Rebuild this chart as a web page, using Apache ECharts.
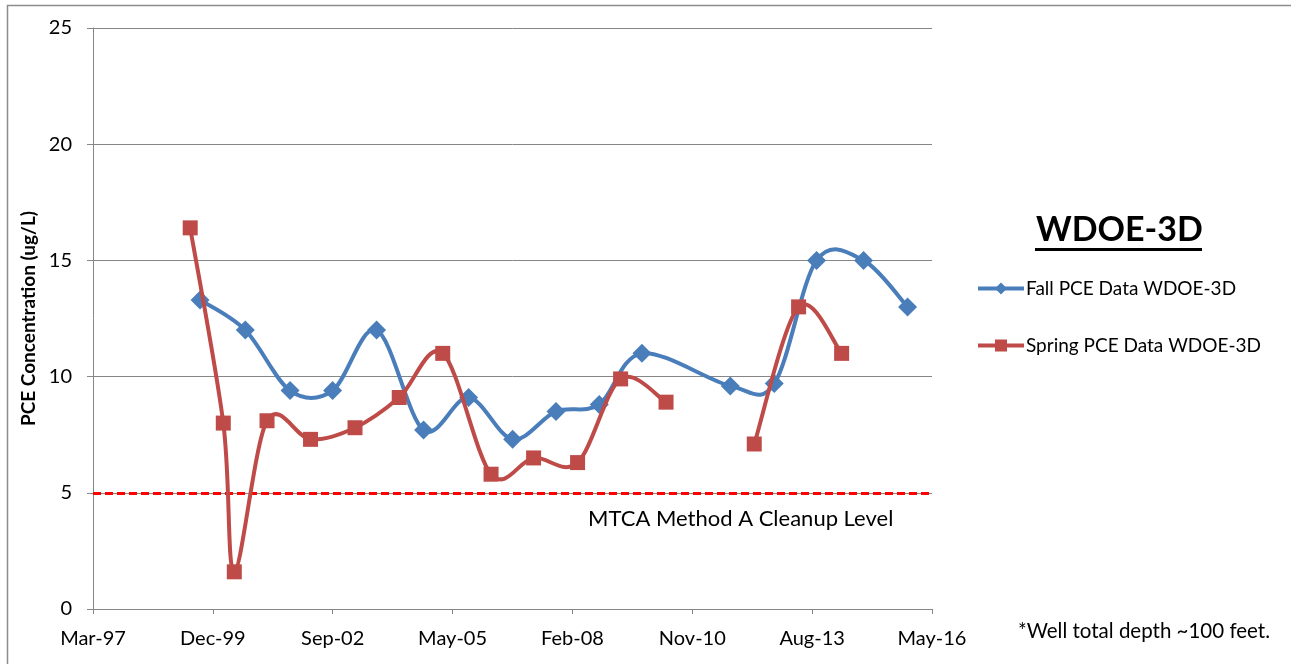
<!DOCTYPE html>
<html>
<head>
<meta charset="utf-8">
<script src="https://cdn.jsdelivr.net/npm/echarts@6/dist/echarts.min.js"></script>
<style>
html,body{margin:0;padding:0;background:#fff;}
#chart{width:1291px;height:664px;}
</style>
</head>
<body>
<div id="chart"></div>
<script>
// ---- data ----
const axisStart = '1997-03-11';
const xTickLabels = ['Mar-97','Dec-99','Sep-02','May-05','Feb-08','Nov-10','Aug-13','May-16'];
const yTicks = [0,5,10,15,20,25];

const fallDates = ['1999-08-21','2000-09-02','2001-09-10','2002-08-31','2003-09-02','2004-09-28','2005-10-09','2006-10-11','2007-10-08','2008-10-03','2009-09-24','2011-10-01','2012-10-02','2013-09-20','2014-10-17','2015-10-19'];
const fallValues = [13.3,12.0,9.4,9.4,12.0,7.7,9.1,7.3,8.5,8.8,11.0,9.6,9.7,15.0,15.0,13.0];

const springDates = ['1999-05-31','2000-03-02','2000-06-02','2001-03-02','2002-02-28','2003-03-06','2004-03-09','2005-03-07','2006-04-14','2007-04-04','2008-04-05','2009-03-30','2010-04-13','2011-04-15','2012-04-18','2013-04-23','2014-04-17'];
const springValues = [16.4,8.0,1.6,8.1,7.3,7.8,9.1,11.0,5.8,6.5,6.3,9.9,8.9,null,7.1,13.0,11.0];

const cleanupLevel = 5;
const seriesNames = ['Fall PCE Data WDOE-3D','Spring PCE Data WDOE-3D'];
const chartTitle = 'WDOE-3D';
const yAxisTitle = 'PCE Concentration (ug/L)';
const cleanupLabel = 'MTCA Method A Cleanup Level';
const footnote = '*Well total depth ~100 feet.';

// ---- helpers ----
const DAY = 86400000;
function toDays(s){ return (Date.parse(s) - Date.parse(axisStart)) / DAY; }
function pairs(dates, vals){ return dates.map((d,i)=>[toDays(d), vals[i]]); }

const fallData = pairs(fallDates, fallValues);
const springData = pairs(springDates, springValues);

const FONT = 'Lato, "Open Sans", sans-serif';
const GRID_COLOR = '#868686';
const BLUE = '#4A7EBB';
const RED = '#BE4B48';

// Excel-like smoothed line (Catmull-Rom style Bezier) drawn in pixel space via the axes
function smoothRenderer(data, color){
  return function(params, api){
    if (params.dataIndex !== 0) return null;
    const segs = [];
    let cur = [];
    data.forEach(p => {
      if (p[1] === null || p[1] === undefined) { if (cur.length) segs.push(cur); cur = []; }
      else cur.push(api.coord(p));
    });
    if (cur.length) segs.push(cur);
    let d = '';
    segs.forEach(pts => {
      if (pts.length < 2) return;
      d += 'M' + pts[0][0] + ' ' + pts[0][1];
      for (let i = 0; i < pts.length - 1; i++) {
        const p0 = pts[i-1] || pts[i], p1 = pts[i], p2 = pts[i+1], p3 = pts[i+2] || pts[i+1];
        const t = 1/6;
        const c1 = [p1[0] + (p2[0]-p0[0])*t, p1[1] + (p2[1]-p0[1])*t];
        const c2 = [p2[0] - (p3[0]-p1[0])*t, p2[1] - (p3[1]-p1[1])*t];
        d += 'C' + c1[0] + ' ' + c1[1] + ' ' + c2[0] + ' ' + c2[1] + ' ' + p2[0] + ' ' + p2[1];
      }
    });
    return { type: 'path', shape: { pathData: d },
      style: { stroke: color, lineWidth: 4, fill: null, lineJoin: 'round', lineCap: 'round' } };
  };
}

const chart = echarts.init(document.getElementById('chart'));
chart.setOption({
  animation: false,
  backgroundColor: '#fff',
  textStyle: { fontFamily: FONT },
  grid: { left: 93, right: 359, top: 28, bottom: 55 },
  xAxis: {
    type: 'value', min: 0, max: 7000, interval: 1000,
    axisLine: { show: true, lineStyle: { color: GRID_COLOR, width: 1 } },
    axisTick: { show: true, length: 5, lineStyle: { color: GRID_COLOR } },
    splitLine: { show: false },
    axisLabel: {
      margin: 20, color: '#000', fontSize: 20, fontFamily: FONT,
      formatter: v => xTickLabels[Math.round(v/1000)]
    }
  },
  yAxis: {
    type: 'value', min: yTicks[0], max: yTicks[yTicks.length-1], interval: 5,
    name: yAxisTitle, nameLocation: 'middle', nameGap: 49,
    nameTextStyle: { fontSize: 19, fontWeight: 'bold', color: '#000', fontFamily: FONT },
    axisLine: { show: true, lineStyle: { color: GRID_COLOR, width: 1 } },
    axisTick: { show: true, length: 6, lineStyle: { color: GRID_COLOR } },
    splitLine: { show: true, lineStyle: { color: GRID_COLOR, width: 1 } },
    axisLabel: { margin: 21, color: '#000', fontSize: 20, fontFamily: FONT }
  },
  legend: {
    orient: 'vertical', left: 976, top: 279, padding: 0,
    itemWidth: 46, itemHeight: 15, itemGap: 38,
    lineStyle: { opacity: 1, width: 4 },
    textStyle: { fontSize: 19, color: '#000', fontFamily: FONT, padding: [0,0,0,-3] },
    data: seriesNames.map(n => ({ name: n, lineStyle: { opacity: 1, width: 4 } }))
  },
  series: [
    {
      type: 'custom', renderItem: smoothRenderer(fallData, BLUE),
      data: [[0, 0]], silent: true, z: 2, clip: true
    },
    {
      name: seriesNames[0], type: 'line', smooth: false,
      data: fallData,
      symbol: 'diamond', symbolSize: 19,
      lineStyle: { color: BLUE, width: 4, opacity: 0 },
      itemStyle: { color: BLUE },
      z: 3,
      markLine: {
        silent: true, symbol: ['none','none'],
        label: { show: false },
        lineStyle: { color: '#FF0000', type: [8,4], width: 3, opacity: 1 },
        data: [{ yAxis: cleanupLevel }],
        z: 1
      }
    },
    {
      type: 'custom', renderItem: smoothRenderer(springData, RED),
      data: [[0, 0]], silent: true, z: 4, clip: true
    },
    {
      name: seriesNames[1], type: 'line', smooth: false, connectNulls: false,
      data: springData,
      symbol: 'rect', symbolSize: 15,
      lineStyle: { color: RED, width: 4, opacity: 0 },
      itemStyle: { color: RED },
      z: 5
    }
  ],
  graphic: [
    { type: 'rect', left: 5, top: 3, shape: { width: 1300, height: 700 },
      style: { fill: 'none', stroke: '#8c8c8c', lineWidth: 1.5 }, silent: true, z: -10 },
    { type: 'text', left: 1036, top: 213,
      style: { text: chartTitle, font: 'bold 34px ' + FONT, fill: '#000' } },
    { type: 'rect', left: 1035, top: 248, shape: { width: 167, height: 3 }, style: { fill: '#000' } },
    { type: 'text', left: 588, top: 508,
      style: { text: cleanupLabel, font: '22px ' + FONT, fill: '#000' } },
    { type: 'text', left: 1018, top: 621,
      style: { text: footnote, font: '20.5px ' + FONT, fill: '#000' } }
  ]
});
</script>
</body>
</html>
